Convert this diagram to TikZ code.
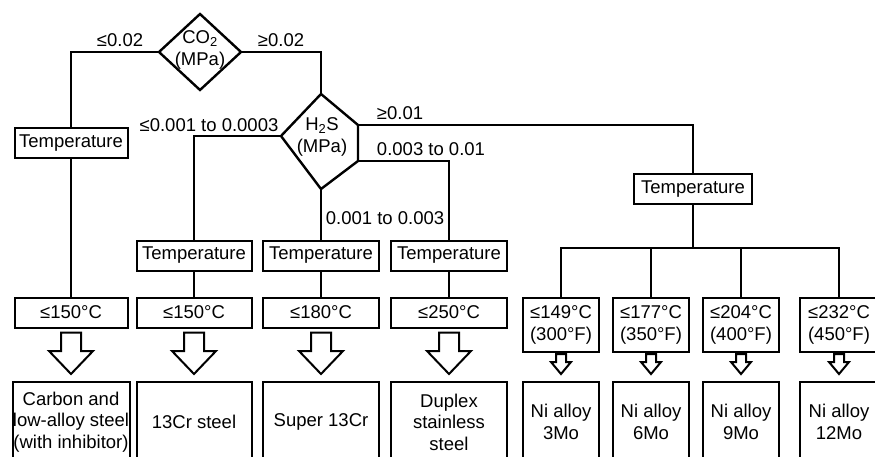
\documentclass[tikz,border=0pt]{standalone}
\usepackage{fontspec}
\setmainfont{Liberation Sans}
\usetikzlibrary{calc}
\newcommand{\hollowarrow}[6]{% from, to, half shaft, half head, head length, top gap
	\draw[hollow] ($(#1.south)+(-#3,#6)$) -- ($(#2.north)+(-#3,-#5-7)$)
		-- ($(#2.north)+(-#4,-#5-7)$) -- ($(#2.north)+(0,-7)$)
		-- ($(#2.north)+(#4,-#5-7)$) -- ($(#2.north)+(#3,-#5-7)$)
		-- ($(#1.south)+(#3,#6)$) -- cycle;}

\begin{document}
\begin{tikzpicture}[x=1pt, y=-1pt, line width=1.7pt,
		font=\fontsize{18.5}{21.5}\selectfont,
		box/.style={draw, line width=2pt, inner sep=0pt, minimum height=30, minimum width=115, align=center},
		tall/.style={box, minimum width=76, minimum height=54},
		result/.style={box, minimum height=80},
		decision/.style={draw, line width=2.4pt, line join=miter},
		hollow/.style={draw, fill=white, line width=2pt, line join=miter},
		lbl/.style={inner sep=0pt}
	]
		\useasboundingbox (0,0) rectangle (875,457);
		
		% decisions
		\draw[decision] (200,14) coordinate (co2-n) -- (241,52) coordinate (co2-e)
			-- (200,90) coordinate (co2-s) -- (159,52) coordinate (co2-w) -- cycle;
		\node[lbl, align=center] (co2) at (200,50) {CO\textsubscript{2}\\(MPa)};
		\draw[decision] (321,94) coordinate (h2s-n) -- (358,125) coordinate (h2s-ne)
			-- (358,161) coordinate (h2s-se) -- (321,189) coordinate (h2s-s)
			-- (281,136) coordinate (h2s-w) -- cycle;
		\node[lbl, align=center] (h2s) at (322,137) {H\textsubscript{2}S\\(MPa)};
		
		% temperature boxes
		\node[box, minimum width=113] (t1) at (71,143.5) {Temperature};
		\node[box] (t2) at (194,255.5) {Temperature};
		\node[box, minimum width=116] (t3) at (321,255.5) {Temperature};
		\node[box, minimum width=116] (t4) at (449,255.5) {Temperature};
		\node[box, minimum width=118] (t5) at (693,189.5) {Temperature};
		
		% limits
		\node[box, minimum width=113] (c1) at (71,312.5) {≤150°C};
		\node[box] (c2) at (194,312.5) {≤150°C};
		\node[box, minimum width=116] (c3) at (321,312.5) {≤180°C};
		\node[box, minimum width=116] (c4) at (449,312.5) {≤250°C};
		\node[tall] (f1) at (561,325) {≤149°C\\(300°F)};
		\node[tall] (f2) at (651,325) {≤177°C\\(350°F)};
		\node[tall] (f3) at (741,325) {≤204°C\\(400°F)};
		\node[tall, minimum width=78] (f4) at (839,325) {≤232°C\\(450°F)};
		
		% materials
		\node[result, minimum width=117] (m1) at (71,422) {Carbon and\\low-alloy steel\\(with inhibitor)};
		\node[result] (m2) at (194,422) {13Cr steel};
		\node[result, minimum width=116] (m3) at (321,422) {Super 13Cr};
		\node[result, minimum width=116] (m4) at (449,422) {Duplex\\stainless\\steel};
		\node[result, minimum width=76] (n1) at (561,422) {Ni alloy\\3Mo};
		\node[result, minimum width=76] (n2) at (651,422) {Ni alloy\\6Mo};
		\node[result, minimum width=76] (n3) at (741,422) {Ni alloy\\9Mo};
		\node[result, minimum width=78] (n4) at (839,422) {Ni alloy\\12Mo};
		
		% connectors
		\draw (co2-w) -| (t1.north);
		\draw (t1) -- (c1);
		\draw (co2-e) -| (h2s-n);
		\draw (h2s-w) -| (t2.north);
		\draw (h2s-s) -- (t3.north);
		\draw (h2s-se) -| (t4.north);
		\draw (h2s-ne) -| (t5.north);
		\draw (t2) -- (c2);
		\draw (t3) -- (c3);
		\draw (t4) -- (c4);
		\coordinate (bus) at (693,248);
		\draw (t5) -- (bus);
		\draw (f1.north) |- (bus) -| (f4.north);
		\draw (f2.north) -- (f2.north |- bus);
		\draw (f3.north) -- (f3.north |- bus);
		
		% branch labels
		\node[lbl] (l-co2a) at (120,40) {≤0.02};
		\node[lbl] (l-co2b) at (281,40) {≥0.02};
		\node[lbl] (l-h2sa) at (209,125) {≤0.001 to 0.0003};
		\node[lbl] (l-h2sb) at (400,113) {≥0.01};
		\node[lbl] (l-h2sc) at (431,149) {0.003 to 0.01};
		\node[lbl] (l-h2sd) at (385,218) {0.001 to 0.003};
		
		% arrows
		\foreach \i in {1,...,4} {
			\hollowarrow{c\i}{m\i}{10}{22}{23}{4}
			\hollowarrow{f\i}{n\i}{5}{10}{12}{1}
		}
\end{tikzpicture}
\end{document}
